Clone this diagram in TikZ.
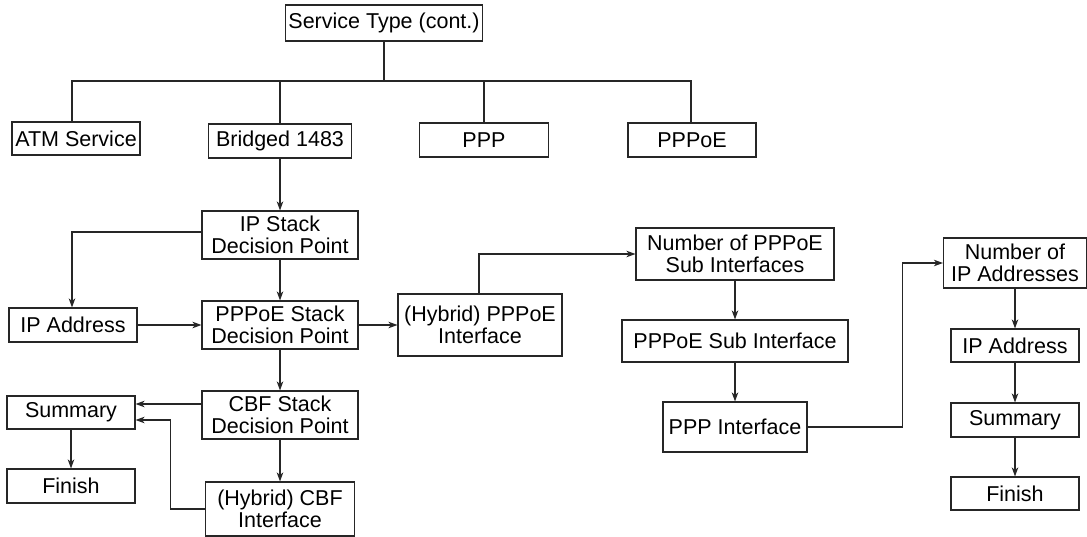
\documentclass[tikz,border=0pt]{standalone}
\usepackage{fontspec}
\setmainfont{Liberation Sans}
\usetikzlibrary{arrows.meta}
\begin{document}
\begin{tikzpicture}[x=1pt,y=-1pt,
  box/.style={draw=black!85, line width=1.1pt, inner sep=0pt, align=center,
    font=\fontsize{21.5}{22.5}\selectfont},
  ln/.style={draw=black!85, line width=1.2pt},
  arr/.style={ln, -{Stealth[length=9pt,width=6.5pt,inset=2.5pt]}}]
\useasboundingbox (0,0) rectangle (1087,537);
% nodes
\node[box, minimum width=197pt, minimum height=36pt] (st) at (384,23) {Service Type (cont.)};
\node[box, minimum width=128pt, minimum height=33pt] (atm) at (76,138.5) {ATM Service};
\node[box, minimum width=143pt, minimum height=34pt] (br) at (280,141) {Bridged 1483};
\node[box, minimum width=129pt, minimum height=34pt] (ppp) at (484,140) {PPP};
\node[box, minimum width=128pt, minimum height=34pt] (pppoe) at (692,140) {PPPoE};
\node[box, minimum width=156pt, minimum height=48pt] (ipdp) at (280,235) {IP Stack\\Decision Point};
\node[box, minimum width=156pt, minimum height=48pt] (ppdp) at (280,325) {PPPoE Stack\\Decision Point};
\node[box, minimum width=156pt, minimum height=48pt] (cbfdp) at (280,415) {CBF Stack\\Decision Point};
\node[box, minimum width=128pt, minimum height=34pt] (ipa) at (73,325) {IP Address};
\node[box, minimum width=128pt, minimum height=33pt] (sum) at (71,412.5) {Summary};
\node[box, minimum width=128pt, minimum height=34pt] (fin) at (71,486) {Finish};
\node[box, minimum width=149pt, minimum height=54pt] (cbfi) at (280,509) {(Hybrid) CBF\\Interface};
\node[box, minimum width=164pt, minimum height=62pt] (hpi) at (480,325) {(Hybrid) PPPoE\\Interface};
\node[box, minimum width=198pt, minimum height=52pt] (nps) at (735,254) {Number of PPPoE\\Sub Interfaces};
\node[box, minimum width=226pt, minimum height=42pt] (psi) at (735,341) {PPPoE Sub Interface};
\node[box, minimum width=144pt, minimum height=50pt] (pppi) at (735,427) {PPP Interface};
\node[box, minimum width=143pt, minimum height=50pt] (nip) at (1015,263) {Number of\\IP Addresses};
\node[box, minimum width=128pt, minimum height=33pt] (ipa2) at (1015,345.5) {IP Address};
\node[box, minimum width=128pt, minimum height=34pt] (sum2) at (1015,420) {Summary};
\node[box, minimum width=128pt, minimum height=33pt] (fin2) at (1015,493.5) {Finish};
% tree
\coordinate (busL) at (72,81);
\coordinate (busR) at (691,81);
\draw[ln] (st.south) -- (st.south |- busL);
\draw[ln] (busL |- atm.north) -- (busL) -- (busR) -- (busR |- pppoe.north);
\draw[ln] (br.north) -- (br.north |- busL);
\draw[ln] (ppp.north) -- (ppp.north |- busL);
% arrows
\draw[arr] (br.south) -- (ipdp.north);
\draw[arr] ([yshift=3pt]ipdp.west) -| ([xshift=-1pt]ipa.north);
\draw[arr] (ipdp.south) -- (ppdp.north);
\draw[arr] (ipa.east) -- (ppdp.west);
\draw[arr] (ppdp.east) -- (hpi.west);
\draw[arr] (ppdp.south) -- (cbfdp.north);
\draw[arr] ([yshift=11pt]cbfdp.west) -- ([yshift=8.5pt]sum.east);
\draw[arr] (cbfi.west) -| ([xshift=35pt,yshift=-7.5pt]sum.east) -- ([yshift=-7.5pt]sum.east);
\draw[arr] (cbfdp.south) -- (cbfi.north);
\draw[arr] (sum.south) -- (fin.north);
\draw[arr] ([xshift=-1pt]hpi.north) |- (nps.west);
\draw[arr] (nps.south) -- (psi.north);
\draw[arr] (psi.south) -- (pppi.north);
\draw[arr] (pppi.east) -- ++(95,0) |- (nip.west);
\draw[arr] (nip.south) -- (ipa2.north);
\draw[arr] (ipa2.south) -- (sum2.north);
\draw[arr] (sum2.south) -- (fin2.north);
\end{tikzpicture}
\end{document}
